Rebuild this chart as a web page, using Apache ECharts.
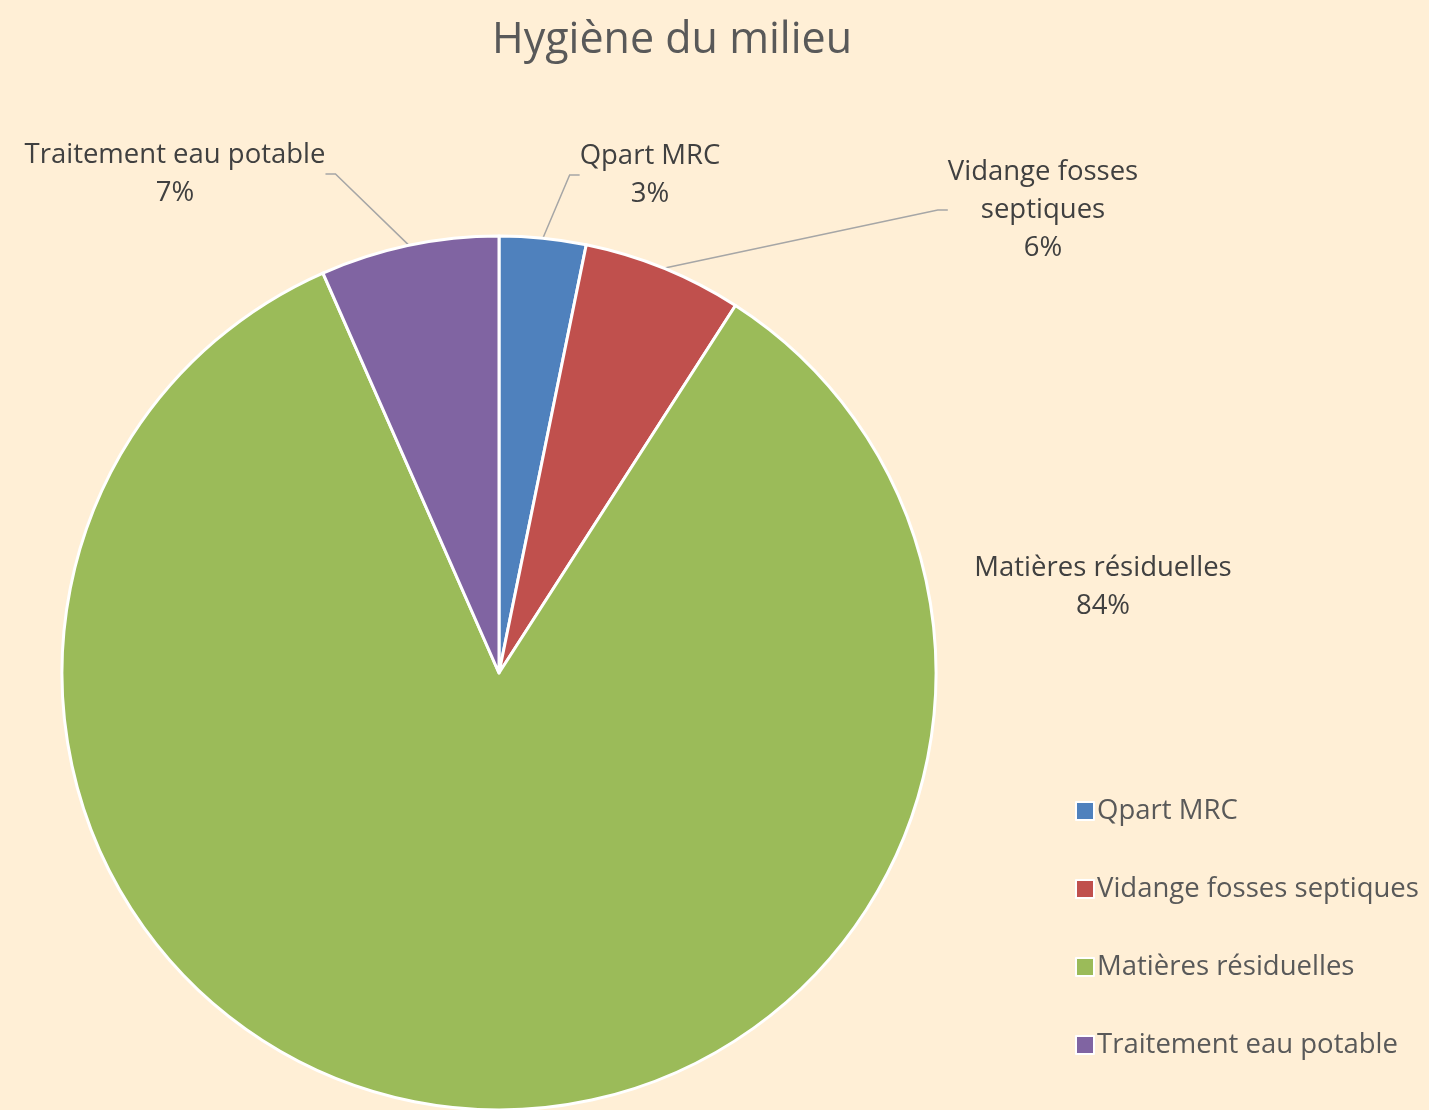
<!DOCTYPE html>
<html>
<head>
<meta charset="utf-8">
<title>Hygiène du milieu</title>
<script src="https://cdn.jsdelivr.net/npm/echarts@6/dist/echarts.min.js"></script>
<style>
  html, body { margin: 0; padding: 0; background: #FFEFD6; }
  #chart { width: 1429px; height: 1110px; }
</style>
</head>
<body>
<div id="chart"></div>
<script>
// catégories et valeurs (parts)
const categories = ['Qpart MRC', 'Vidange fosses septiques', 'Matières résiduelles', 'Traitement eau potable']
const values = [3.2, 5.9, 84.3, 6.6]
const colors = ['#4F81BD', '#C0504D', '#9BBB59', '#8064A2']
// texte des étiquettes (retour à la ligne comme dans l'original)
const labelNames = ['Qpart MRC', 'Vidange fosses\nseptiques', 'Matières résiduelles', 'Traitement eau potable']

// position des étiquettes (centre du bloc de texte)
const labelPos = [[650, 175], [1043, 210], [1103, 587], [175, 174]]

const font = '"Open Sans", "Noto Sans", sans-serif'

const myChart = echarts.init(document.getElementById('chart'))

const options = {
  backgroundColor: '#FFEFD6',
  title: {
    text: 'Hygiène du milieu',
    left: 487,
    top: 14,
    textStyle: {
      color: '#595959',
      fontFamily: font,
      fontSize: 43,
      fontWeight: 'normal'
    }
  },
  legend: {
    orient: 'vertical',
    left: 1070,
    top: 792,
    itemGap: 50,
    itemWidth: 18,
    itemHeight: 18,
    icon: 'rect',
    itemStyle: {
      borderColor: '#fff',
      borderWidth: 2
    },
    textStyle: {
      color: '#595959',
      fontFamily: font,
      fontSize: 27.5,
      lineHeight: 28,
      padding: [0, 0, 0, -2]
    },
    data: categories
  },
  series: [
    {
      type: 'pie',
      center: [499, 673],
      radius: 437,
      startAngle: 90,
      clockwise: true,
      label: {
        show: true,
        position: 'outside',
        color: '#404040',
        fontFamily: font,
        fontSize: 27.5,
        lineHeight: 38,
        align: 'center',
        formatter: p => labelNames[p.dataIndex] + '\n' + p.percent + '%'
      },
      percentPrecision: 0,
      labelLine: {
        show: true,
        length: 20,
        length2: 10,
        lineStyle: { color: '#A6A6A6', width: 1.5 }
      },
      labelLayout: function (params) {
        const pos = labelPos[params.dataIndex]
        return {
          x: pos[0],
          y: pos[1],
          align: 'center',
          verticalAlign: 'middle'
        }
      },
      itemStyle: {
        borderColor: '#fff',
        borderWidth: 3
      },
      emphasis: { scale: false },
      data: categories.map((c, i) => ({
        name: c,
        value: values[i],
        itemStyle: { color: colors[i] },
        labelLine: { show: i !== 2 }
      }))
    }
  ]
}

myChart.setOption(options)
</script>
</body>
</html>
